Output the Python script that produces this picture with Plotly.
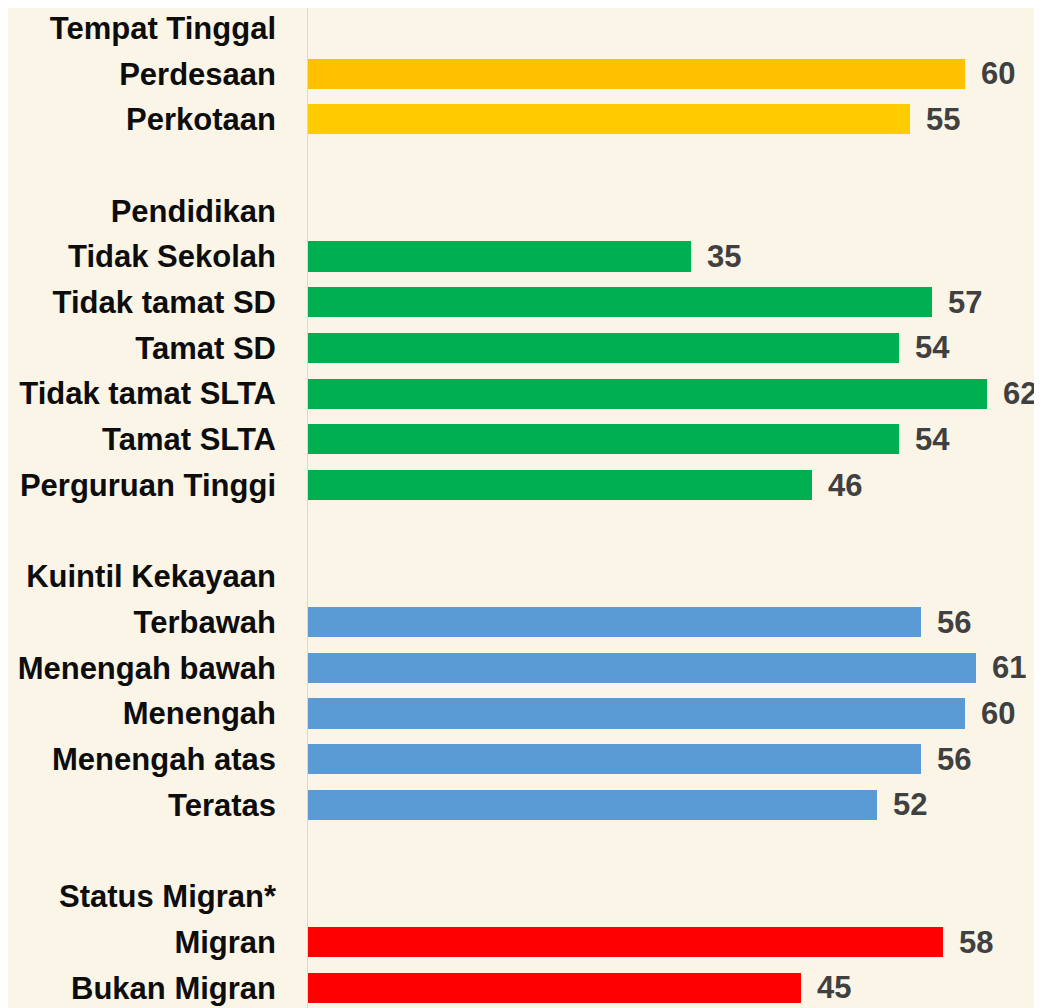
import plotly.graph_objects as go

# ---- data ----
categories = [
    "Tempat Tinggal", "Perdesaan", "Perkotaan", "",
    "Pendidikan", "Tidak Sekolah", "Tidak tamat SD", "Tamat SD",
    "Tidak tamat SLTA", "Tamat SLTA", "Perguruan Tinggi", " ",
    "Kuintil Kekayaan", "Terbawah", "Menengah bawah", "Menengah",
    "Menengah atas", "Teratas", "  ",
    "Status Migran*", "Migran", "Bukan Migran",
]
values = [
    None, 60, 55, None,
    None, 35, 57, 54, 62, 54, 46, None,
    None, 56, 61, 60, 56, 52, None,
    None, 58, 45,
]
bar_colors = [
    None, "#FFC000", "#FFCC00", None,
    None, "#00B050", "#00B050", "#00B050", "#00B050", "#00B050", "#00B050", None,
    None, "#5B9BD5", "#5B9BD5", "#5B9BD5", "#5B9BD5", "#5B9BD5", None,
    None, "#FF0000", "#FF0000",
]

FONT = "Liberation Sans, Arial, sans-serif"
BG = "#FBF5E8"

rows = list(range(len(categories)))
bx = [v for v in values if v is not None]
by = [r for r, v in zip(rows, values) if v is not None]
bc = [c for c, v in zip(bar_colors, values) if v is not None]

fig = go.Figure()
fig.add_trace(go.Bar(
    x=bx, y=by, orientation="h", width=0.66,
    marker=dict(color=bc, line=dict(width=0)),
    hoverinfo="x+y", showlegend=False,
))

for x, y in zip(bx, by):
    fig.add_annotation(
        x=x, y=y, xref="x", yref="y", text=str(x), showarrow=False,
        xanchor="left", yanchor="middle", xshift=14,
        font=dict(family=FONT, size=31, color="#404040", weight="bold"),
    )

fig.add_shape(type="line", xref="x", yref="paper", x0=0, x1=0, y0=0, y1=1,
              line=dict(color="#D9D9D9", width=2), layer="above")

fig.update_layout(
    width=1034, height=1000,
    margin=dict(l=299, r=0, t=0, b=0, autoexpand=False),
    paper_bgcolor=BG, plot_bgcolor=BG,
    bargap=0,
    xaxis=dict(range=[0, 67], visible=False, showgrid=False, zeroline=False,
               automargin=False),
    yaxis=dict(
        range=[21.444, -0.4376], tickmode="array", tickvals=rows, ticktext=categories,
        showgrid=False, zeroline=False, showline=False, ticks="",
        automargin=False, ticklabelstandoff=30,
        tickfont=dict(family=FONT, size=31, color="#0D0D0D", weight="bold"),
    ),
)

fig.write_html("out.html")
